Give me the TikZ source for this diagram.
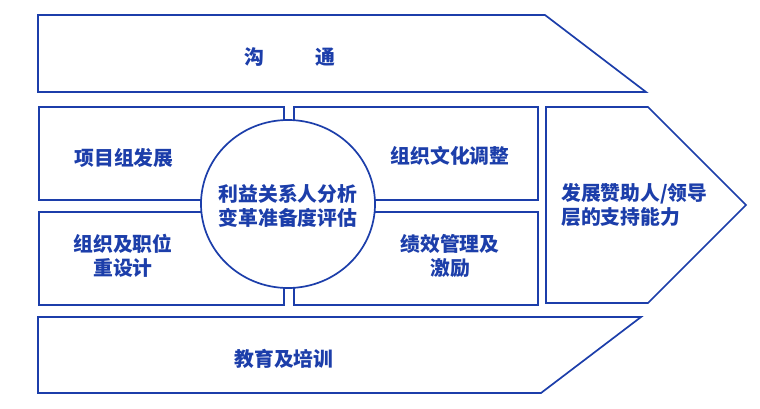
\documentclass[tikz,border=0pt]{standalone}
\usepackage{fontspec}
\setmainfont{Noto Sans CJK SC}
\definecolor{bl}{RGB}{28,62,170}
\tikzset{
  shp/.style={draw=bl, line width=1.7pt, fill=white, line join=miter},
  lbl/.style={text=bl, font=\fontsize{19.8}{24}\selectfont\bfseries, align=center, inner sep=0pt},
}
\begin{document}
\begin{tikzpicture}[x=1pt,y=-1pt]
\useasboundingbox (0,0) rectangle (760,408);
% banners
\draw[shp] (38,15) -- (545,15) -- (646,92) -- (38,92) -- cycle;
\draw[shp] (38,317) -- (641,317) -- (541,393) -- (38,393) -- cycle;
% four boxes
\draw[shp] (39,107) rectangle (284,200);
\draw[shp] (294,107) rectangle (538,200);
\draw[shp] (39,212) rectangle (284,305);
\draw[shp] (294,212) rectangle (538,305);
% right arrow
\draw[shp] (546,107) -- (648,107) -- (746,205) -- (648,303) -- (546,303) -- cycle;
% circle
\draw[shp] (288,204) ellipse [x radius=87pt, y radius=84pt];
% labels
\node[lbl] (gt) at (290,57) {沟\hspace{2.6em}通};
\node[lbl] (xm) at (124,158) {项目组发展};
\node[lbl] (wh) at (450,156) {组织文化调整};
\node[lbl] (zz) at (123,255.5) {组织及职位\\重设计};
\node[lbl] (jx) at (450,255.5) {绩效管理及\\激励};
\node[lbl] (ly) at (288,206) {利益关系人分析\\变革准备度评估};
\node[lbl, align=left, anchor=west] (fz) at (561,205) {发展赞助人/领导\\层的支持能力};
\node[lbl] (jy) at (284,359) {教育及培训};
\end{tikzpicture}
\end{document}
